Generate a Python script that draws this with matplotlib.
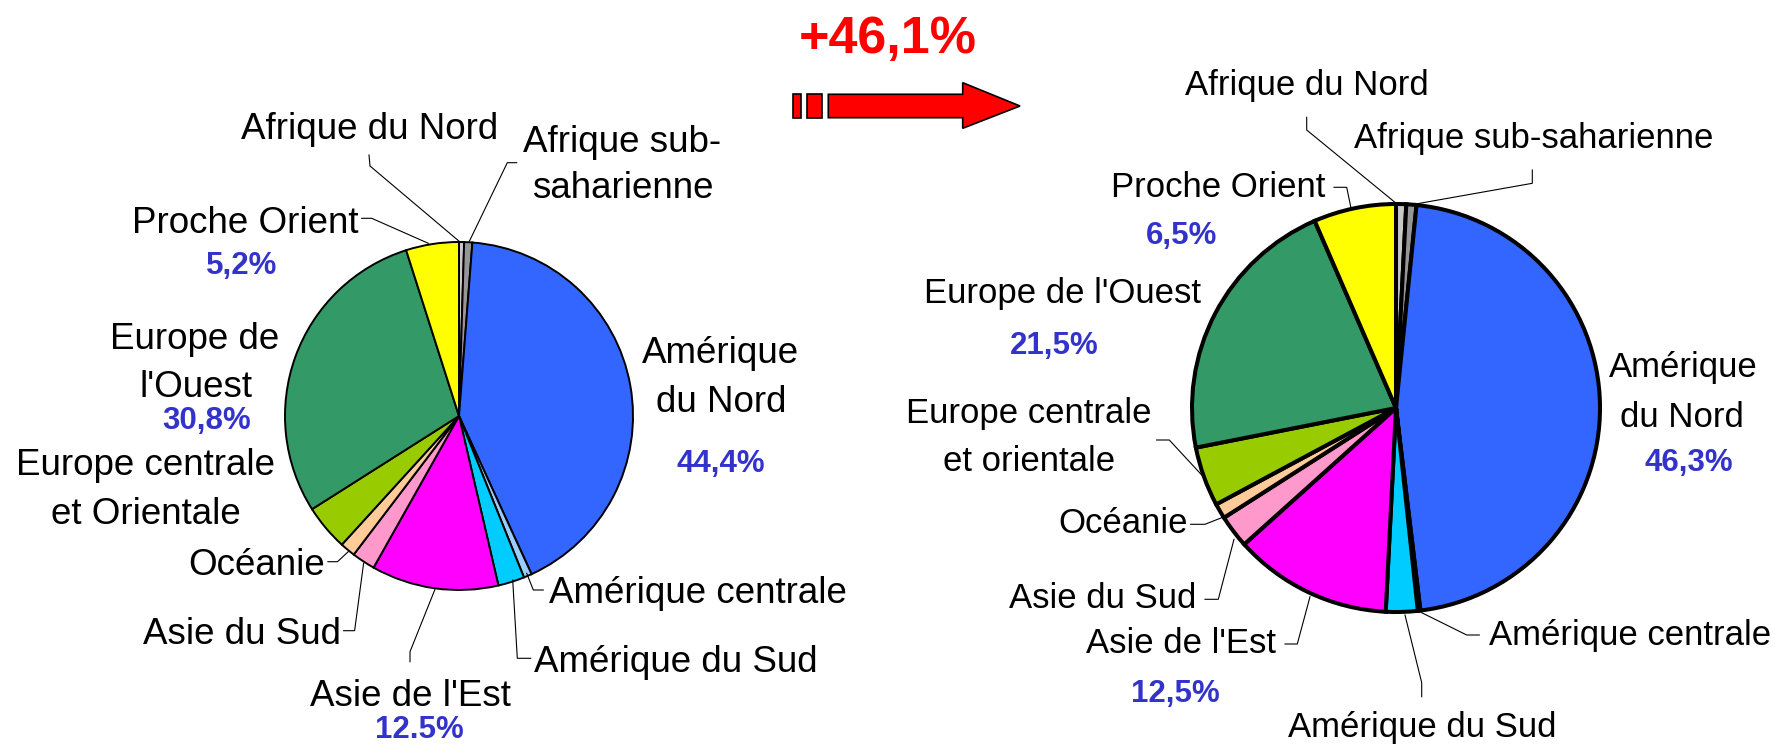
import matplotlib
matplotlib.use("Agg")
import matplotlib.pyplot as plt
from matplotlib.patches import Polygon, Rectangle

W, H = 1775, 747

# ---------------- data ----------------
categories = ["Afrique du Nord", "Afrique sub-saharienne", "Amérique du Nord",
              "Amérique centrale", "Amérique du Sud", "Asie de l'Est",
              "Asie du Sud", "Océanie", "Europe centrale et orientale",
              "Europe de l'Ouest", "Proche Orient"]
values_left = [0.5, 0.8, 44.4, 0.8, 2.6, 12.5, 2.3, 1.5, 4.5, 30.8, 5.2]
values_right = [0.8, 0.8, 46.3, 0.2, 2.5, 12.5, 2.6, 1.2, 4.7, 21.5, 6.5]
colors = ["#C8C8C8", "#969696", "#3366FF", "#99CCFF", "#00CCFF", "#FF00FF",
          "#FF99CC", "#FFCC99", "#99CC00", "#339966", "#FFFF00"]

names_left = ["Afrique du Nord", "Afrique sub-\nsaharienne", "Amérique\ndu Nord",
              "Amérique centrale", "Amérique du Sud", "Asie de l'Est",
              "Asie du Sud", "Océanie", "Europe centrale\net Orientale",
              "Europe de\nl'Ouest", "Proche Orient"]
pcts_left = ["", "", "44,4%", "", "", "12.5%", "", "", "", "30,8%", "5,2%"]

names_right = ["Afrique du Nord", "Afrique sub-saharienne", "Amérique\ndu Nord",
               "Amérique centrale", "Amérique du Sud", "Asie de l'Est",
               "Asie du Sud", "Océanie", "Europe centrale\net orientale",
               "Europe de l'Ouest", "Proche Orient"]
pcts_right = ["", "", "46,3%", "", "", "12,5%", "", "", "", "21,5%", "6,5%"]

growth_label = "+46,1%"

# ---------------- layout (pixel coords, y from top) ----------------
# per category: (ha, [(x, baseline) per line], pct (x, baseline) or None, leader points)
layout_left = [
    ("center", [(369.7, 139.3)], None, [(369, 155), (370, 166), (460, 242)]),
    ("center", [(622, 151.7), (622.5, 198.3)], None, [(516.7, 162.7), (507.3, 162.7), (469, 242)]),
    ("center", [(720, 363.3), (721.3, 411.7)], (721.3, 471.7), None),
    ("left", [(549.3, 602.7)], None, [(543.3, 590), (533.3, 590), (526.7, 573.3)]),
    ("left", [(534.3, 671.7)], None, [(530.7, 658.3), (517.3, 658.3), (512.7, 580)]),
    ("center", [(410.7, 706)], (419, 738), [(410, 661.7), (410, 651.7), (435, 589.3)]),
    ("right", [(341, 644)], None, [(343.6, 630.7), (354.6, 630.7), (363.6, 563.3)]),
    ("right", [(325, 575)], None, [(327.9, 561.7), (337.5, 561.7), (348.2, 551.7)]),
    ("center", [(145.5, 475), (145.5, 524)], None, None),
    ("center", [(195, 349.3), (195.5, 396.7)], (207, 429.3), None),
    ("right", [(358.3, 233.3)], (242, 274.3), [(361.7, 218.3), (371.7, 218.3), (428.3, 243.3)]),
]
layout_right = [
    ("center", [(1307, 95)], None, [(1306.7, 117.3), (1306.7, 130), (1397, 204)]),
    ("center", [(1533.3, 148.3)], None, [(1532.3, 170), (1532.3, 183.3), (1410, 205)]),
    ("center", [(1683.8, 377.3), (1681.7, 426.7)], (1689, 470.7), None),
    ("left", [(1489.3, 645)], None, [(1479.3, 635), (1466.7, 635), (1421.7, 612.7)]),
    ("center", [(1422, 737)], None, [(1421.7, 696.7), (1421.7, 682.7), (1405, 615)]),
    ("right", [(1276, 653.3)], (1175.8, 701.7), [(1285, 644), (1297.3, 644), (1310, 596.7)]),
    ("right", [(1196.7, 608.3)], None, [(1205, 599.3), (1218.3, 599.3), (1234, 539.3)]),
    ("right", [(1188.3, 533.3)], None, [(1190.7, 524.3), (1205, 524.3), (1222.7, 517.3)]),
    ("center", [(1029, 422.7), (1029, 471)], None, [(1156.7, 440), (1169.3, 440), (1201.7, 475)]),
    ("center", [(1062.5, 303.3)], (1054.5, 354), None),
    ("right", [(1325, 196.7)], (1181.5, 244.3), [(1334, 187.3), (1346.7, 187.3), (1351, 208)]),
]

FONT = ["Liberation Sans", "DejaVu Sans"]
PCT_COLOR = "#3333CC"

fig = plt.figure(figsize=(W / 100, H / 100), dpi=100)
ax = fig.add_axes([0, 0, 1, 1])


def Y(y):
    return H - y


def draw_pie(values, center, radius, lw):
    ax.pie(values, colors=colors, startangle=90, counterclock=False,
           center=(center[0], Y(center[1])), radius=radius,
           wedgeprops=dict(edgecolor="black", linewidth=lw))


def draw_labels(names, pcts, layout, size, pct_size):
    for name, pct, (ha, lines, ppos, leader) in zip(names, pcts, layout):
        for txt, (x, y) in zip(name.split("\n"), lines):
            ax.text(x, Y(y), txt, ha=ha, va="baseline", fontsize=size,
                    family=FONT, color="black")
        if pct and ppos is not None:
            ax.text(ppos[0], Y(ppos[1]), pct, ha="center", va="baseline",
                    fontsize=pct_size, family=FONT, fontweight="bold",
                    color=PCT_COLOR)
        if leader:
            ax.plot([p[0] for p in leader], [Y(p[1]) for p in leader],
                    color="black", lw=0.8, solid_joinstyle="miter")


draw_pie(values_left, (459, 416), 174, 1.4)
draw_pie(values_right, (1396, 408), 204, 2.9)

draw_labels(names_left, pcts_left, layout_left, 26.5, 22.5)
draw_labels(names_right, pcts_right, layout_right, 25, 22.5)

# growth arrow
arrow_pts = [(828.3, 94.3), (962.7, 94.3), (962.7, 82.7), (1020, 106),
             (962.7, 128.3), (962.7, 117.7), (828.3, 117.7)]
ax.add_patch(Polygon([(x, Y(y)) for x, y in arrow_pts], closed=True,
                     facecolor="#FF0000", edgecolor="black", lw=1.2))
for x0, x1 in [(792.7, 800.7), (806.7, 821.7)]:
    ax.add_patch(Rectangle((x0, Y(117.7)), x1 - x0, 117.7 - 94.3,
                           facecolor="#FF0000", edgecolor="black", lw=1.2))
ax.text(887.5, Y(53.3), growth_label, ha="center", va="baseline",
        fontsize=37.5, fontweight="bold", family=FONT, color="#FF0000")

ax.set_xlim(0, W)
ax.set_ylim(0, H)
ax.set_aspect("auto")
ax.axis("off")

fig.savefig("out.png", dpi=100, facecolor="white")
